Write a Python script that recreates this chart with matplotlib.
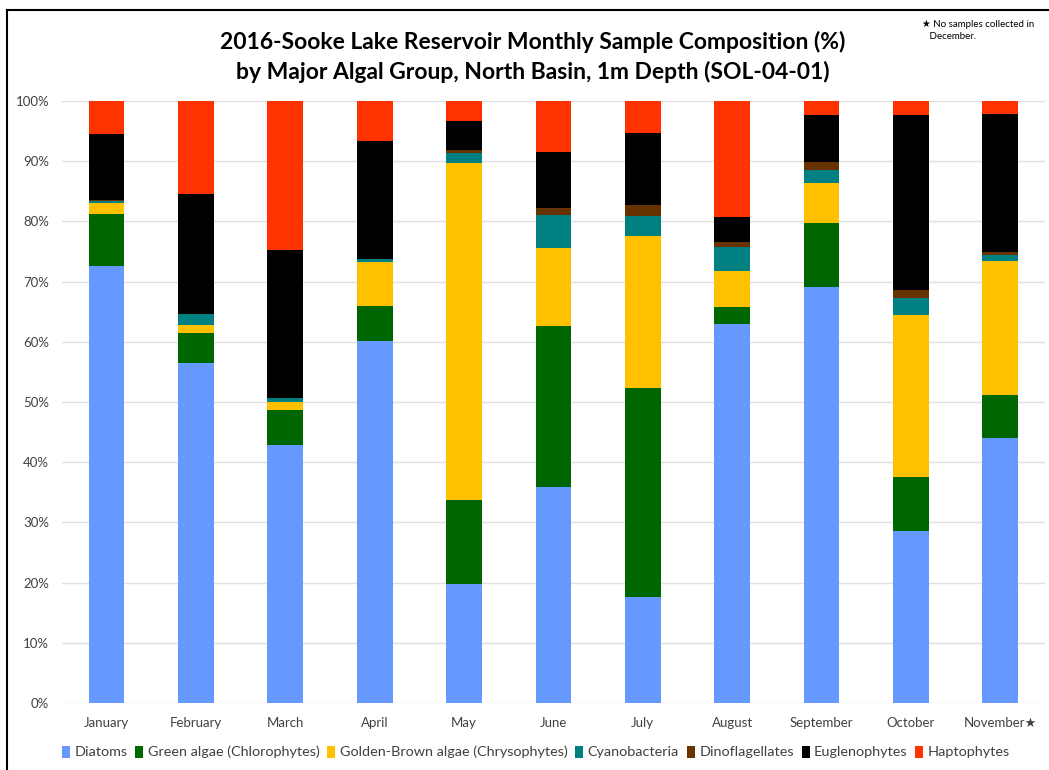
import matplotlib
matplotlib.use("Agg")
import matplotlib.pyplot as plt
from matplotlib.lines import Line2D
from matplotlib.patches import Patch
import numpy as np

plt.rcParams['font.family'] = ['Lato', 'DejaVu Sans']

months = ["January", "February", "March", "April", "May", "June", "July",
          "August", "September", "October", "November★"]
groups = ["Diatoms", "Green algae (Chlorophytes)", "Golden-Brown algae (Chrysophytes)",
          "Cyanobacteria", "Dinoflagellates", "Euglenophytes", "Haptophytes"]
colors = ["#6699FF", "#006600", "#FFC000", "#008080", "#663300", "#000000", "#FF3300"]

diatoms = [72.6, 56.4, 42.9, 60.2, 19.7, 35.9, 17.6, 63.0, 69.1, 28.6, 44.1]
green = [8.6, 5.1, 5.7, 5.7, 14.1, 26.7, 34.8, 2.7, 10.7, 8.9, 7.0]
golden = [1.8, 1.3, 1.45, 7.4, 55.95, 12.9, 25.2, 6.0, 6.5, 27.0, 22.3]
cyano = [0.4, 1.9, 0.55, 0.5, 1.55, 5.6, 3.3, 4.0, 2.2, 2.7, 1.1]
dino = [0.1, 0.0, 0.0, 0.0, 0.6, 1.1, 1.8, 0.9, 1.3, 1.4, 0.4]
eugleno = [11.1, 19.8, 24.7, 19.6, 4.7, 9.3, 12.0, 4.1, 7.8, 29.1, 23.0]
hapto = [5.4, 15.5, 24.7, 6.6, 3.4, 8.5, 5.3, 19.3, 2.4, 2.3, 2.1]

series = [diatoms, green, golden, cyano, dino, eugleno, hapto]

W, H = 1049, 770
fig = plt.figure(figsize=(W / 100, H / 100), dpi=100)
ax = fig.add_axes([61.8 / W, 1 - 703 / H, (1045 - 61.8) / W, (703 - 101) / H])

x = np.arange(len(months))
bottom = np.zeros(len(months))
for vals, c, name in zip(series, colors, groups):
    v = np.array(vals, dtype=float)
    ax.bar(x, v, 0.4, bottom=bottom, color=c, label=name, zorder=3)
    bottom += v

ax.set_xlim(-0.5, len(months) - 0.5)
ax.set_ylim(0, 100)
ax.set_yticks(np.arange(0, 101, 10))
ax.set_yticklabels([f"{t}%" for t in range(0, 101, 10)])
ax.set_xticks(x)
ax.set_xticklabels(months)
ax.tick_params(axis='both', length=0, labelsize=9.5, colors='#404040')
ax.tick_params(axis='x', pad=10)
ax.tick_params(axis='y', pad=9)
ax.grid(axis='y', color='#e0e0e0', linewidth=1, zorder=0)
for s in ax.spines.values():
    s.set_visible(False)

fig.text(533 / W, 1 - 42 / H,
         "2016-Sooke Lake Reservoir Monthly Sample Composition (%)",
         ha='center', va='center', fontsize=16.5, fontweight='bold')
fig.text(533 / W, 1 - 72 / H,
         "by Major Algal Group, North Basin, 1m Depth (SOL-04-01)",
         ha='center', va='center', fontsize=16.5, fontweight='bold')
fig.text(922 / W, 1 - 20 / H, "★ No samples collected in\n   December.",
         ha='left', va='top', fontsize=7, linespacing=1.4)

handles = [Patch(facecolor=c, edgecolor='none') for c in colors]
fig.legend(handles, groups, loc='center', bbox_to_anchor=(536 / W, 1 - 752 / H),
           ncol=7, frameon=False, fontsize=10.4, handlelength=0.55, handleheight=0.9,
           handletextpad=0.3, columnspacing=0.55, labelcolor='#404040')

# outer frame
fig.add_artist(Line2D([7 / W, 7 / W], [0, 1 - 10 / H], color='black', lw=1.5, transform=fig.transFigure))
fig.add_artist(Line2D([7 / W, 1], [1 - 10 / H, 1 - 10 / H], color='black', lw=1.5, transform=fig.transFigure))

fig.savefig("out.png", dpi=100)
